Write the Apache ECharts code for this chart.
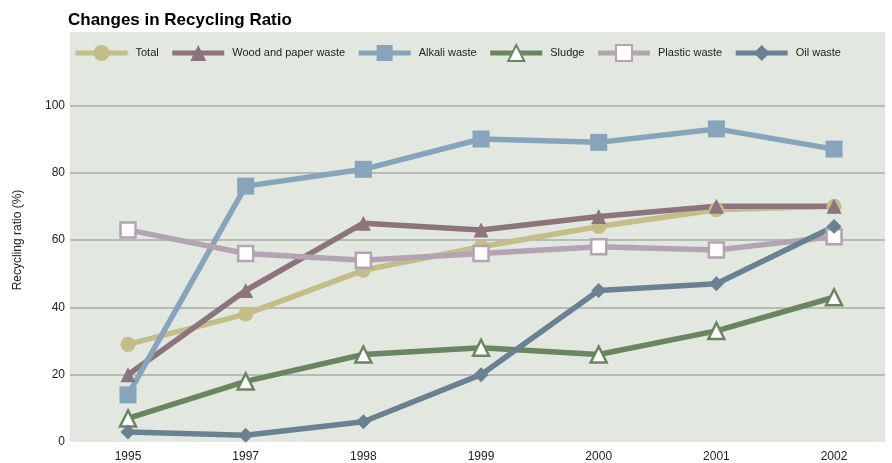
<!DOCTYPE html>
<html>
<head>
<meta charset="utf-8">
<script src="https://cdn.jsdelivr.net/npm/echarts@6/dist/echarts.min.js"></script>
<style>
  html, body { margin: 0; padding: 0; background: #fff; }
  #chart { width: 892px; height: 463px; }
</style>
</head>
<body>
<div id="chart"></div>
<script>
// categories (years) and values
var years = ["1995", "1997", "1998", "1999", "2000", "2001", "2002"];
var total = [29, 38, 51, 58, 64, 69, 70];
var woodPaper = [20, 45, 65, 63, 67, 70, 70];
var alkali = [14, 76, 81, 90, 89, 93, 87];
var sludge = [7, 18, 26, 28, 26, 33, 43];
var plastic = [63, 56, 54, 56, 58, 57, 61];
var oil = [3, 2, 6, 20, 45, 47, 64];
var yTicks = [0, 20, 40, 60, 80, 100];

function pts(arr) {
  return arr.map(function (v, i) { return [i, v]; });
}

function lineSeries(name, data, color, symbol, size, fill) {
  return {
    name: name,
    type: "line",
    data: pts(data),
    symbol: symbol,
    symbolSize: size,
    showAllSymbol: true,
    lineStyle: { color: color, width: 5.5 },
    itemStyle: {
      color: fill || color,
      borderColor: color,
      borderWidth: fill ? 2.5 : 0
    },
    emphasis: { disabled: true },
    animation: false
  };
}

var chart = echarts.init(document.getElementById("chart"));
chart.setOption({
  animation: false,
  textStyle: { fontFamily: "Liberation Sans" },
  title: {
    text: "Changes in Recycling Ratio",
    left: 63,
    top: 7,
    textStyle: { fontSize: 17, fontWeight: "bold", color: "#000", fontFamily: "Liberation Sans" }
  },
  graphic: [{
    type: "rect",
    z: -10,
    shape: { x: 70, y: 32, width: 815, height: 410 },
    style: { fill: "#e2e7e0" },
    silent: true
  }],
  legend: {
    left: 68,
    top: 39,
    itemWidth: 52,
    itemHeight: 20,
    itemGap: 11,
    lineStyle: { width: 5 },
    textStyle: { fontSize: 11, color: "#222", padding: [0, 0, 0, 3] },
    data: ["Total", "Wood and paper waste", "Alkali waste", "Sludge", "Plastic waste", "Oil waste"]
  },
  grid: { left: 70, right: 7, top: 38, bottom: 21 },
  xAxis: {
    type: "value",
    min: -0.493,
    max: 6.433,
    axisLine: { show: false },
    axisTick: { show: false },
    splitLine: { show: false },
    axisLabel: {
      customValues: [0, 1, 2, 3, 4, 5, 6],
      formatter: function (v) { return years[Math.round(v)]; },
      fontSize: 12,
      color: "#222",
      margin: 9
    }
  },
  yAxis: {
    type: "value",
    min: 0,
    max: 120,
    interval: 20,
    name: "Recycling ratio (%)",
    nameLocation: "middle",
    nameGap: 46,
    nameTextStyle: { fontSize: 12, color: "#222" },
    axisLine: { show: false },
    axisTick: { show: false },
    axisLabel: {
      fontSize: 12,
      color: "#222",
      margin: 5,
      formatter: function (v) { return yTicks.indexOf(v) >= 0 ? String(v) : ""; }
    },
    splitLine: {
      lineStyle: {
        color: ["rgba(0,0,0,0)", "#a9aca8", "#a9aca8", "#a9aca8", "#a9aca8", "#a9aca8", "rgba(0,0,0,0)"],
        width: 1.5
      }
    }
  },
  series: [
    lineSeries("Total", total, "#c3bd88", "circle", 15),
    lineSeries("Wood and paper waste", woodPaper, "#8b747c", "triangle", 15),
    lineSeries("Alkali waste", alkali, "#86a5bb", "rect", 17),
    lineSeries("Sludge", sludge, "#6a8661", "triangle", 16, "#fff"),
    lineSeries("Plastic waste", plastic, "#b3a3b3", "rect", 15, "#fff"),
    lineSeries("Oil waste", oil, "#6a8191", "diamond", 15)
  ]
});
</script>
</body>
</html>
